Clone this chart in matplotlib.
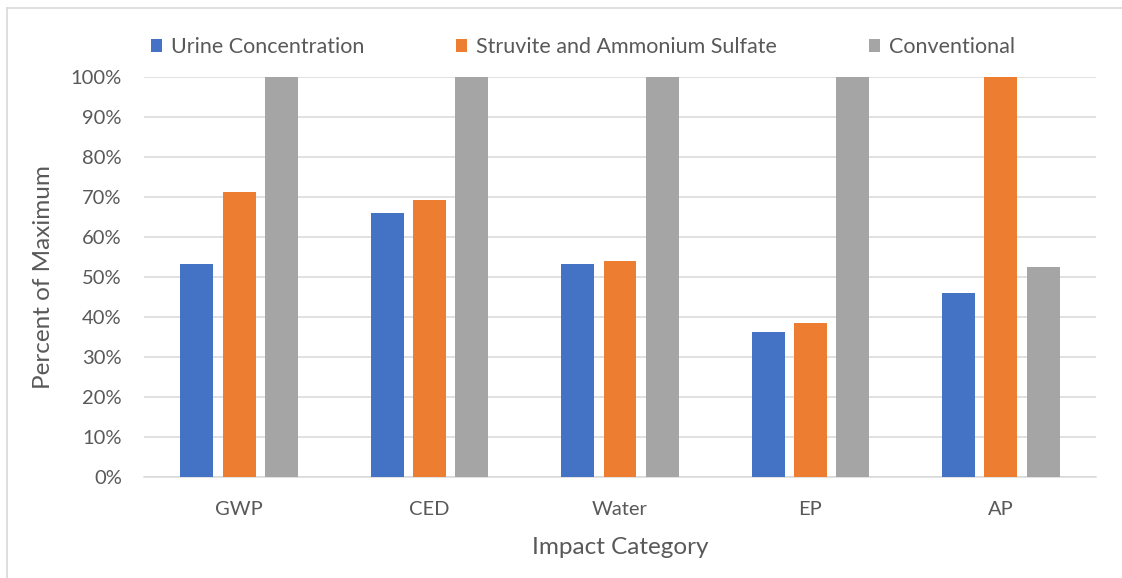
import matplotlib
matplotlib.use("Agg")
import matplotlib.pyplot as plt
from matplotlib.patches import Patch
from matplotlib.lines import Line2D
from matplotlib.ticker import PercentFormatter
import numpy as np

categories = ["GWP", "CED", "Water", "EP", "AP"]
series_names = ["Urine Concentration", "Struvite and Ammonium Sulfate", "Conventional"]
urine = [53.2, 65.9, 53.2, 36.3, 46.1]
struvite = [71.3, 69.3, 53.9, 38.6, 100.0]
conventional = [100.0, 100.0, 100.0, 100.0, 52.5]
colors = ["#4472C4", "#ED7D31", "#A5A5A5"]

plt.rcParams["font.family"] = ["Lato", "DejaVu Sans"]
text_color = "#595959"

fig = plt.figure(figsize=(11.22, 5.78), dpi=100)
ax = fig.add_axes([144 / 1122, 101 / 578, 952 / 1122, 400 / 578])

x = np.arange(len(categories))
step = 0.222
width = 0.173
for j, (vals, col) in enumerate(zip([urine, struvite, conventional], colors)):
    ax.bar(x + (j - 1) * step, vals, width, color=col, zorder=3)

ax.set_xlim(-0.5, len(categories) - 0.5)
ax.set_ylim(0, 100)
ax.set_yticks(np.arange(0, 101, 10))
ax.yaxis.set_major_formatter(PercentFormatter(decimals=0))
ax.set_xticks(x)
ax.set_xticklabels(categories)
ax.grid(axis="y", color="#D9D9D9", linewidth=1.1, zorder=0)
for s in ["top", "right", "left"]:
    ax.spines[s].set_visible(False)
ax.spines["bottom"].set_color("#D9D9D9")
ax.spines["bottom"].set_linewidth(1.1)
ax.tick_params(axis="both", length=0, colors=text_color, labelsize=14.5)
ax.tick_params(axis="y", pad=16)
ax.tick_params(axis="x", pad=17)

ax.set_ylabel("Percent of Maximum", fontsize=17.5, color=text_color, labelpad=12)
ax.set_xlabel("Impact Category", fontsize=17.5, color=text_color, labelpad=14)

handles = [Patch(facecolor=c, edgecolor="none") for c in colors]
leg = fig.legend(handles, series_names, loc="center", bbox_to_anchor=(583 / 1122, 1 - 47 / 578),
                 ncol=3, frameon=False, fontsize=15.5, handlelength=0.52, handleheight=0.52,
                 handletextpad=0.42, columnspacing=4.25, labelcolor=text_color)

# outer chart border
fig.add_artist(Line2D([7 / 1122, 7 / 1122], [0, 1 - 8 / 578], transform=fig.transFigure,
                      color="#D9D9D9", linewidth=1.2))
fig.add_artist(Line2D([7 / 1122, 1], [1 - 8 / 578, 1 - 8 / 578], transform=fig.transFigure,
                      color="#D9D9D9", linewidth=1.2))

fig.savefig("out.png", dpi=100, facecolor="white")
